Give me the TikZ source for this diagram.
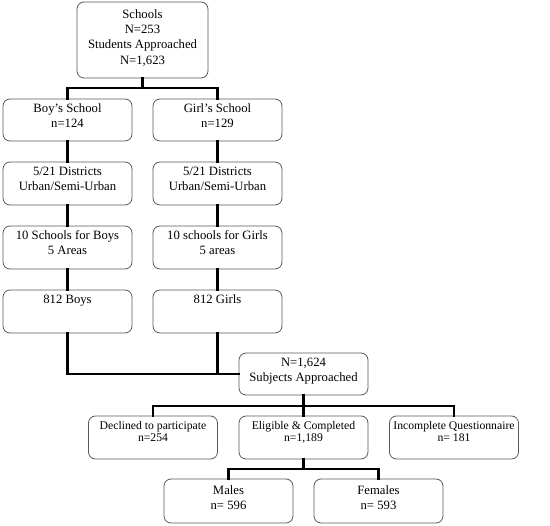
\documentclass[tikz,border=0pt]{standalone}
\usepackage{fontspec}
\setmainfont{Liberation Serif}
\begin{document}
\begin{tikzpicture}[x=1pt,y=-1pt,
  box/.style={draw=black!65, line width=0.8pt, rounded corners=7pt, minimum width=129pt, minimum height=43pt, inner sep=0pt},
  txt/.style={anchor=north, align=center, inner sep=0pt, font=\fontsize{12.7}{15.2}\selectfont},
  stxt/.style={anchor=north, align=center, inner sep=0pt, font=\fontsize{11.7}{12.2}\selectfont},
  conn/.style={line width=2.8pt, line cap=rect},
  ]
\useasboundingbox (0,0) rectangle (550,526);
% boxes
\node[box, minimum width=131pt, minimum height=76pt, label={[txt,yshift=-6.7pt]north:{\rule{0pt}{10pt}Schools\\N=253\\Students Approached\\N=1,623}}] (top) at (142.5,40) {};
\node[box, minimum height=42pt, label={[txt,yshift=-4pt]north:{\rule{0pt}{10pt}Boy’s School\\n=124}}] (boy) at (67.5,120) {};
\node[box, minimum height=42pt, label={[txt,yshift=-4pt]north:{\rule{0pt}{10pt}Girl’s School\\n=129}}] (girl) at (217.5,120) {};
\node[box, label={[txt,yshift=-4pt]north:{\rule{0pt}{10pt}5/21 Districts\\Urban/Semi-Urban}}] (d1) at (67.5,183.5) {};
\node[box, label={[txt,yshift=-4pt]north:{\rule{0pt}{10pt}5/21 Districts\\Urban/Semi-Urban}}] (d2) at (217.5,183.5) {};
\node[box, label={[txt,yshift=-4pt]north:{\rule{0pt}{10pt}10 Schools for Boys\\5 Areas}}] (s1) at (67.5,247.5) {};
\node[box, label={[txt,yshift=-4pt]north:{\rule{0pt}{10pt}10 schools for Girls\\5 areas}}] (s2) at (217.5,247.5) {};
\node[box, label={[txt,yshift=-4pt]north:{\rule{0pt}{10pt}812 Boys}}] (b1) at (67.5,311.5) {};
\node[box, label={[txt,yshift=-4pt]north:{\rule{0pt}{10pt}812 Girls}}] (g1) at (217.5,311.5) {};
\node[box, minimum height=42pt, label={[txt,yshift=-4pt]north:{\rule{0pt}{10pt}N=1,624\\Subjects Approached}}] (subj) at (303.5,374) {};
\node[box, label={[stxt,yshift=-4.3pt]north:{\rule{0pt}{9pt}Declined to participate\\n=254}}] (dec) at (153,437.5) {};
\node[box, label={[stxt,yshift=-4.3pt]north:{\rule{0pt}{9pt}Eligible \& Completed\\n=1,189}}] (eli) at (303.5,437.5) {};
\node[box, label={[stxt,yshift=-4.3pt]north:{\rule{0pt}{9pt}Incomplete Questionnaire\\n= 181}}] (inc) at (454,437.5) {};
\node[box, minimum height=44pt, label={[txt,yshift=-6pt]north:{\rule{0pt}{10pt}Males\\n= 596}}] (mal) at (228.5,501) {};
\node[box, minimum height=44pt, label={[txt,yshift=-6pt]north:{\rule{0pt}{10pt}Females\\n= 593}}] (fem) at (378.5,501) {};
% junctions
\coordinate (j1) at (142.5,88);
\coordinate (j3) at (303.5,406);
\coordinate (j4) at (303.5,469);
% connectors
\draw[conn] (top.south) -- (j1);
\draw[conn] (boy.north) |- (j1) -| (girl.north);
\draw[conn] (boy) -- (d1);
\draw[conn] (d1) -- (s1);
\draw[conn] (s1) -- (b1);
\draw[conn] (girl) -- (d2);
\draw[conn] (d2) -- (s2);
\draw[conn] (s2) -- (g1);
\draw[conn] (b1.south) |- (subj.west);
\draw[conn] (g1.south) -- (g1.south |- subj.west);
\draw[conn] (subj.south) -- (eli.north);
\draw[conn] (dec.north) |- (j3) -| (inc.north);
\draw[conn] (eli.south) -- (j4);
\draw[conn] (mal.north) |- (j4) -| (fem.north);
\end{tikzpicture}
\end{document}
